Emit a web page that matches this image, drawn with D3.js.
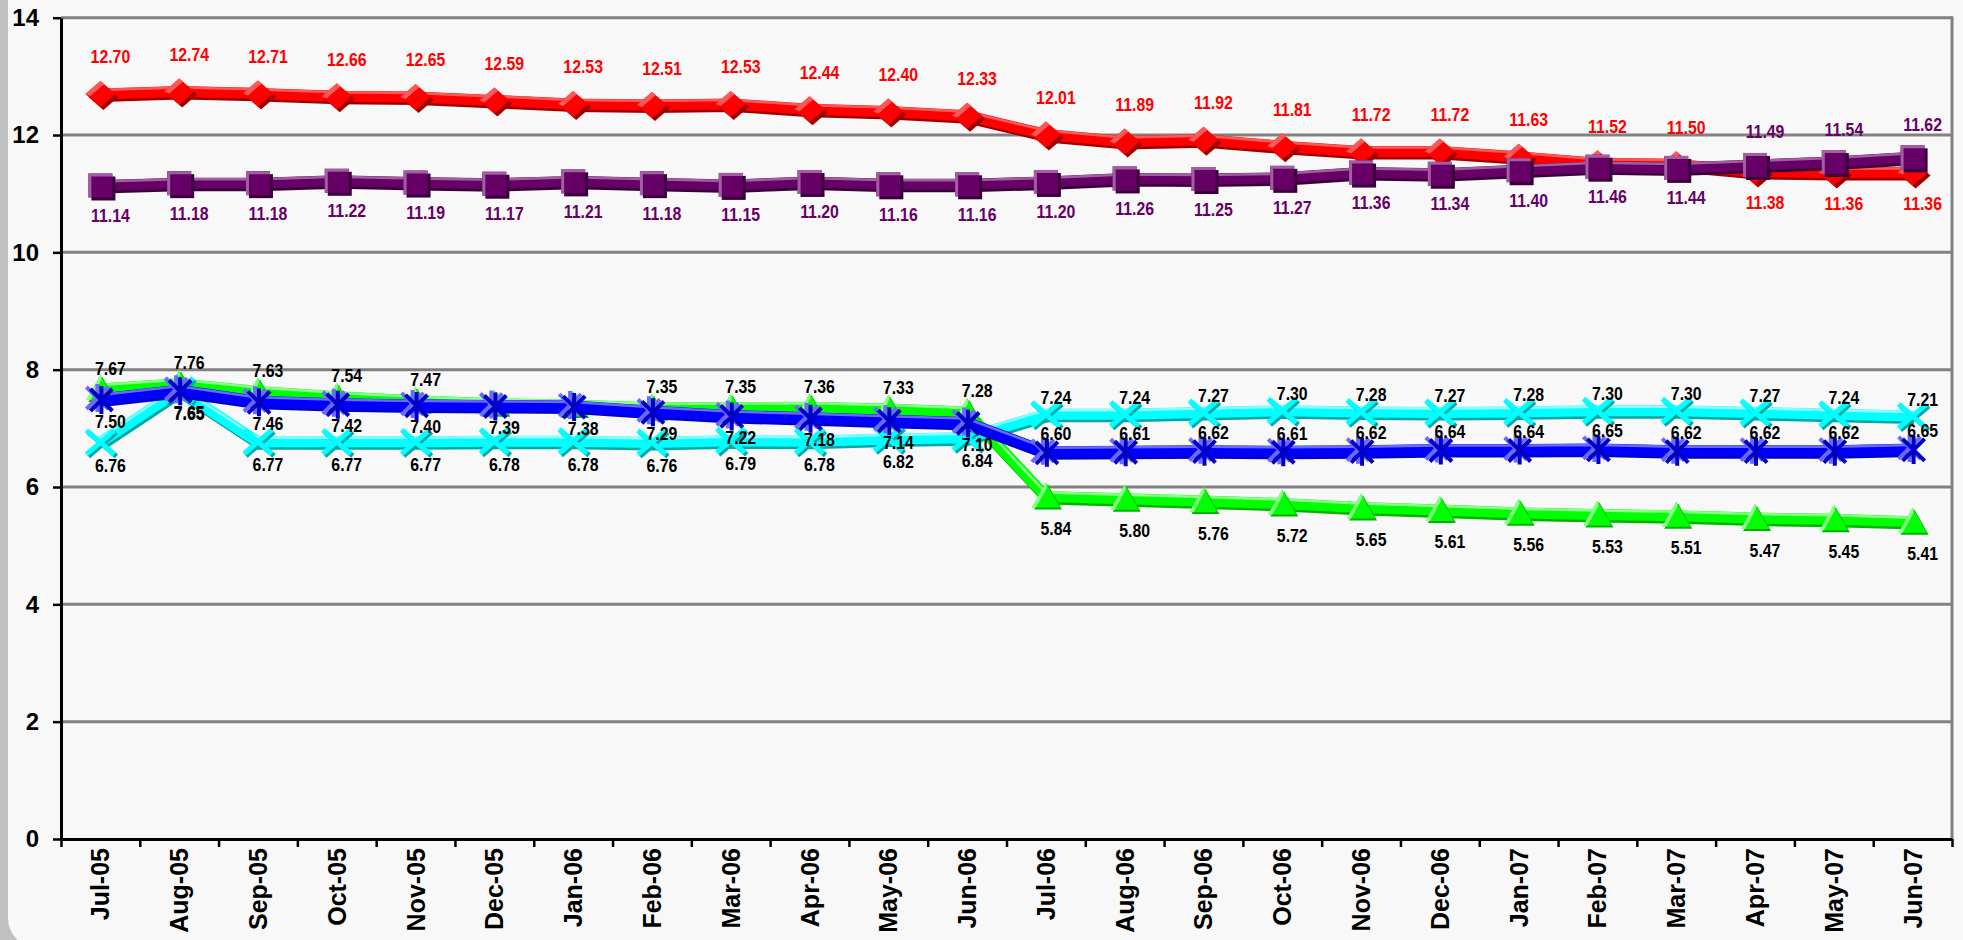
<!DOCTYPE html>
<html>
<head>
<meta charset="utf-8">
<script src="https://cdn.jsdelivr.net/npm/d3@7"></script>
<style>
  html, body { margin: 0; padding: 0; background: #c0c0c0; }
  svg { display: block; }
</style>
</head>
<body>
<svg id="chart" width="1963" height="940"></svg>
<script>
// Monthly categories
const months = ["Jul-05","Aug-05","Sep-05","Oct-05","Nov-05","Dec-05","Jan-06","Feb-06","Mar-06","Apr-06","May-06","Jun-06",
                "Jul-06","Aug-06","Sep-06","Oct-06","Nov-06","Dec-06","Jan-07","Feb-07","Mar-07","Apr-07","May-07","Jun-07"];

// Series values
const redValues    = [12.70,12.74,12.71,12.66,12.65,12.59,12.53,12.51,12.53,12.44,12.40,12.33,
                      12.01,11.89,11.92,11.81,11.72,11.72,11.63,11.52,11.50,11.38,11.36,11.36];
const purpleValues = [11.14,11.18,11.18,11.22,11.19,11.17,11.21,11.18,11.15,11.20,11.16,11.16,
                      11.20,11.26,11.25,11.27,11.36,11.34,11.40,11.46,11.44,11.49,11.54,11.62];
const greenValues  = [7.67,7.76,7.63,7.54,7.47,7.42,7.40,7.35,7.35,7.36,7.33,7.28,
                      5.84,5.80,5.76,5.72,5.65,5.61,5.56,5.53,5.51,5.47,5.45,5.41];
const blueValues   = [7.50,7.65,7.46,7.42,7.40,7.39,7.38,7.29,7.22,7.18,7.14,7.10,
                      6.60,6.61,6.62,6.61,6.62,6.64,6.64,6.65,6.62,6.62,6.62,6.65];
const cyanValues   = [6.76,7.65,6.77,6.77,6.77,6.78,6.78,6.76,6.79,6.78,6.82,6.84,
                      7.24,7.24,7.27,7.30,7.28,7.27,7.28,7.30,7.30,7.27,7.24,7.21];
// Points of the green series that carry no value label
const greenUnlabeled = ["Dec-05","Jan-06"];

const yTicks = [0,2,4,6,8,10,12,14];

const W = 1963, H = 940;
const plot = { left: 61, right: 1952, top: 17.7, bottom: 839 };

const svg = d3.select("#chart");

// Chart background with the rounded frame corner on the lower left
svg.append("rect").attr("x", 0).attr("y", 0).attr("width", W).attr("height", H).attr("fill", "#c0c0c0");
svg.append("rect").attr("x", 8).attr("y", -40).attr("width", W + 40).attr("height", 988)
   .attr("rx", 30).attr("fill", "#f8f8f8");

const x = d3.scaleBand().domain(months).range([plot.left, plot.right]).padding(0);
const xEdge = d3.scaleLinear().domain([0, months.length]).range([plot.left, plot.right]);
const y = d3.scaleLinear().domain([0, 14]).range([plot.bottom, plot.top]);
const cx = m => x(m) + x.bandwidth() / 2;

// Horizontal gridlines
svg.append("g").selectAll("line")
  .data(yTicks.filter(v => v > 0))
  .join("line")
  .attr("x1", plot.left).attr("x2", plot.right)
  .attr("y1", d => y(d)).attr("y2", d => y(d))
  .attr("stroke", "#818181").attr("stroke-width", 3);

// Right edge of the plot frame
svg.append("line")
  .attr("x1", plot.right).attr("x2", plot.right)
  .attr("y1", y(14) - 1.5).attr("y2", y(0))
  .attr("stroke", "#818181").attr("stroke-width", 3);

// Y axis
const yAxis = svg.append("g")
  .attr("transform", `translate(${plot.left},0)`)
  .call(d3.axisLeft(y).tickValues(yTicks).tickFormat(d3.format("d")).tickSize(8).tickSizeOuter(0).tickPadding(14));
yAxis.select(".domain").attr("stroke", "#000").attr("stroke-width", 3);
yAxis.selectAll(".tick line").attr("stroke", "#000").attr("stroke-width", 2.5);
yAxis.selectAll(".tick text")
  .attr("font-family", "'Liberation Sans', Arial, sans-serif")
  .attr("font-weight", "bold").attr("font-size", 24).attr("fill", "#000");

// X axis: tick marks between categories
const xTicks = svg.append("g")
  .attr("transform", `translate(0,${plot.bottom})`)
  .call(d3.axisBottom(xEdge).tickValues(d3.range(months.length + 1)).tickFormat("").tickSize(8).tickSizeOuter(0));
xTicks.select(".domain").attr("stroke", "#000").attr("stroke-width", 3);
xTicks.selectAll(".tick line").attr("stroke", "#000").attr("stroke-width", 2.5);

// X axis: rotated month labels
const xLabels = svg.append("g")
  .attr("transform", `translate(0,${plot.bottom})`)
  .call(d3.axisBottom(x).tickSize(0));
xLabels.select(".domain").remove();
xLabels.selectAll(".tick text")
  .attr("transform", "rotate(-90)")
  .attr("x", -9).attr("y", 0).attr("dy", "0.36em")
  .attr("text-anchor", "end")
  .attr("font-family", "'Liberation Sans', Arial, sans-serif")
  .attr("font-weight", "bold").attr("font-size", 25).attr("fill", "#000");

// Marker shapes, each drawn with a shadow copy, a face and a highlight
function drawDiamond(g, c) {
  const pts = "0,-13 15,0 0,13 -15,0";
  g.append("polygon").attr("points", pts).attr("fill", c.dark).attr("transform", "translate(3,3)");
  g.append("polygon").attr("points", pts).attr("fill", c.main);
  g.append("polygon").attr("points", "-15,0 0,-13 4,-10 -10,2").attr("fill", c.light);
}
function drawSquare(g, c) {
  g.append("rect").attr("x", -12).attr("y", -12).attr("width", 24).attr("height", 24).attr("fill", c.dark).attr("transform", "translate(3,3)");
  g.append("rect").attr("x", -12).attr("y", -12).attr("width", 24).attr("height", 24).attr("fill", c.main);
  g.append("path").attr("d", "M-12,-12 H12 V-9 H-9 V12 H-12 Z").attr("fill", c.light);
}
function drawTriangle(g, c) {
  const pts = "0,-14 14,11 -14,11";
  g.append("polygon").attr("points", pts).attr("fill", c.dark).attr("transform", "translate(2,2)");
  g.append("polygon").attr("points", pts).attr("fill", c.main);
  g.append("polygon").attr("points", "0,-14 -14,11 -10,11 1,-9").attr("fill", c.light);
}
function drawStar(g, c) {
  const d = "M-11,-11 L11,11 M-11,11 L11,-11 M0,-14 L0,14";
  g.append("path").attr("d", d).attr("stroke", c.light).attr("stroke-width", 4).attr("fill", "none").attr("transform", "translate(-3,-1)");
  g.append("path").attr("d", d).attr("stroke", c.dark).attr("stroke-width", 4).attr("fill", "none").attr("transform", "translate(1,1)");
}
function drawCross(g, c) {
  const d = "M-14,-12 L14,12 M-14,12 L14,-12";
  g.append("path").attr("d", d).attr("stroke", c.dark).attr("stroke-width", 5).attr("fill", "none").attr("transform", "translate(2,2)");
  g.append("path").attr("d", d).attr("stroke", c.main).attr("stroke-width", 5).attr("fill", "none");
}

const series = [
  { name: "red", values: redValues, main: "#ff0000", light: "#ff5858", dark: "#a00000", marker: drawDiamond,
    labelColor: "#ff0000", offsets: { above: -37, below: 31 },
    side: i => redValues[i] >= purpleValues[i] ? "above" : "below" },
  { name: "green", values: greenValues, main: "#00ff00", light: "#8cff8c", dark: "#00b400", marker: drawTriangle,
    labelColor: "#000", offsets: { above: -21, below: 32 },
    side: i => greenValues[i] >= blueValues[i] ? "above" : "below" },
  { name: "cyan", values: cyanValues, main: "#00ffff", light: "#8cffff", dark: "#00a8a8", marker: drawCross,
    labelColor: "#000", offsets: { above: -17, below: 23 },
    side: i => cyanValues[i] > blueValues[i] ? "above" : "below" },
  { name: "blue", values: blueValues, main: "#0000ff", light: "#6a6aff", dark: "#0000c8", marker: drawStar,
    labelColor: "#000", offsets: { above: -18, below: 22 },
    side: i => blueValues[i] >= cyanValues[i] ? "below" : "above" },
  { name: "purple", values: purpleValues, main: "#660066", light: "#a060a0", dark: "#3a003a", marker: drawSquare,
    labelColor: "#660066", offsets: { above: -33, below: 30 },
    side: i => purpleValues[i] > redValues[i] ? "above" : "below" }
];

const line = d3.line().x((d, i) => cx(months[i])).y(d => y(d));

const marksLayer = svg.append("g");
series.forEach(s => {
  const g = marksLayer.append("g").attr("class", "series-" + s.name);
  g.append("path").attr("d", line(s.values)).attr("fill", "none")
    .attr("stroke", s.dark).attr("stroke-width", 11).attr("stroke-linejoin", "round")
    .attr("transform", "translate(1.5,2.5)");
  g.append("path").attr("d", line(s.values)).attr("fill", "none")
    .attr("stroke", s.main).attr("stroke-width", 11).attr("stroke-linejoin", "round");
  g.append("path").attr("d", line(s.values)).attr("fill", "none")
    .attr("stroke", s.light).attr("stroke-width", 2.5).attr("stroke-linejoin", "round")
    .attr("transform", "translate(-0.5,-4)");
  s.values.forEach((v, i) => {
    const mg = g.append("g").attr("transform", `translate(${cx(months[i])},${y(v)})`);
    s.marker(mg, s);
  });
});

// Value labels (slightly condensed bold face)
const labelsLayer = svg.append("g")
  .attr("font-family", "'Liberation Sans', Arial, sans-serif")
  .attr("font-weight", "bold").attr("font-size", 18);
const fmt = d3.format(".2f");
series.forEach(s => {
  s.values.forEach((v, i) => {
    if (s.name === "green" && greenUnlabeled.includes(months[i])) return;
    const off = s.offsets[s.side(i)];
    labelsLayer.append("text")
      .attr("transform", `translate(${cx(months[i]) + 10},${y(v) + off}) scale(0.88,1)`)
      .attr("dy", "0.36em")
      .attr("text-anchor", "middle")
      .attr("fill", s.labelColor)
      .text(fmt(v));
  });
});
</script>
</body>
</html>
